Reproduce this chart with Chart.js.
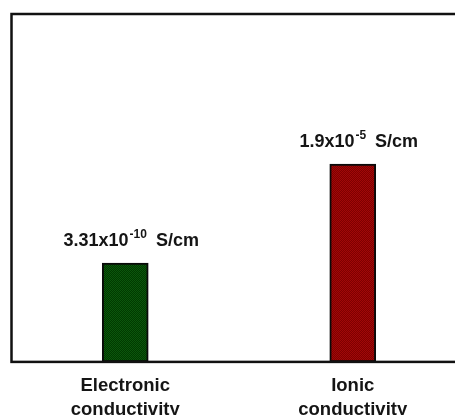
<!DOCTYPE html>
<html>
<head>
<meta charset="utf-8">
<title>Conductivity</title>
<script src="https://cdn.jsdelivr.net/npm/chart.js@4.4.1/dist/chart.umd.min.js"></script>
<style>
  html, body { margin: 0; padding: 0; background: #fff; overflow: hidden; }
  #wrap { position: absolute; left: 0; top: 0; }
</style>
</head>
<body>
<div id="wrap">
  <canvas id="condChart" width="480" height="434"></canvas>
</div>
<script>
// data
const categories = [['Electronic', 'conductivity'], ['Ionic', 'conductivity']];
const conductivity = [3.31e-10, 1.9e-5]; // S/cm
const barColors = [['#003a00', '#0c560c'], ['#7e0000', '#a10808']];

// little 2x2 checker to get the dotted print texture of the bars
const makePattern = (c1, c2) => {
  const p = document.createElement('canvas');
  p.width = 2;
  p.height = 2;
  const pc = p.getContext('2d');
  pc.fillStyle = c1;
  pc.fillRect(0, 0, 2, 2);
  pc.fillStyle = c2;
  pc.fillRect(0, 0, 1, 1);
  pc.fillRect(1, 1, 1, 1);
  return pc.createPattern(p, 'repeat');
};

const FONT = '"Liberation Sans", Arial, sans-serif';

// box round the plot area
const framePlugin = {
  id: 'frame',
  afterDatasetsDraw(chart) {
    const { ctx, chartArea: a } = chart;
    ctx.save();
    ctx.strokeStyle = '#111';
    ctx.lineWidth = 2.5;
    ctx.strokeRect(a.left, a.top, a.right - a.left, a.bottom - a.top);
    ctx.restore();
  },
};

// "3.31x10^-10 S/cm" labels above the bars, with a real superscript
const valueLabels = {
  id: 'valueLabels',
  afterDraw(chart) {
    const { ctx } = chart;
    const meta = chart.getDatasetMeta(0);
    ctx.save();
    ctx.fillStyle = '#151515';
    ctx.textBaseline = 'alphabetic';
    ctx.textAlign = 'left';
    meta.data.forEach((bar, i) => {
      const [mant, exp] = conductivity[i].toExponential().split('e');
      const main = mant + 'x10';
      const sup = String(Number(exp));
      const tail = 'S/cm';
      const mainFont = 'bold 18px ' + FONT;
      const supFont = 'bold 12px ' + FONT;
      const gap = 9;
      ctx.font = mainFont;
      const w1 = ctx.measureText(main).width;
      const w3 = ctx.measureText(tail).width;
      ctx.font = supFont;
      const w2 = ctx.measureText(sup).width;
      let x = bar.x + 6 - (w1 + 1 + w2 + gap + w3) / 2;
      const y = bar.y - 17;
      ctx.font = mainFont;
      ctx.fillText(main, x, y);
      x += w1 + 1;
      ctx.font = supFont;
      ctx.fillText(sup, x, y - 8);
      x += w2 + gap;
      ctx.font = mainFont;
      ctx.fillText(tail, x, y);
    });
    ctx.restore();
  },
};

new Chart(document.getElementById('condChart').getContext('2d'), {
  type: 'bar',
  data: {
    labels: categories,
    datasets: [
      {
        data: conductivity,
        backgroundColor: barColors.map((c) => makePattern(c[0], c[1])),
        borderColor: '#0a0a0a',
        borderWidth: 2,
        borderSkipped: false,
        barThickness: 46,
      },
    ],
  },
  options: {
    responsive: false,
    animation: false,
    layout: { padding: { left: 11.5, top: 14, right: 13.5, bottom: 0 } },
    plugins: {
      legend: { display: false },
      tooltip: { enabled: false },
    },
    scales: {
      x: {
        grid: { display: false, drawTicks: false },
        border: { display: false },
        ticks: {
          padding: 12,
          color: '#151515',
          font: { family: FONT, size: 18.5, weight: 'bold', lineHeight: 1.3 },
        },
      },
      y: {
        type: 'logarithmic',
        display: false,
        min: 6.31e-15,
        max: 309,
      },
    },
  },
  plugins: [framePlugin, valueLabels],
});
</script>
</body>
</html>
